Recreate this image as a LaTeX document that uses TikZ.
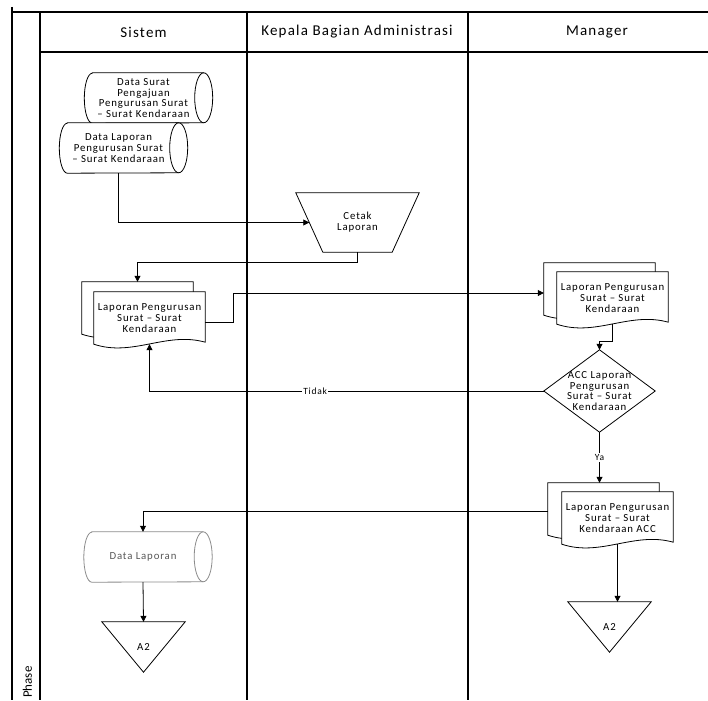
\documentclass[tikz,border=0pt]{standalone}
\usepackage{fontspec}
\setmainfont{Carlito}[LetterSpace=8]
\newfontfamily\phasefont{Carlito}
\usetikzlibrary{arrows.meta,calc}
\pgfdeclarelayer{bg}
\pgfsetlayers{bg,main}

\tikzset{
  lane/.style={line width=1.2pt, draw=black},
  flow/.style={line width=0.8pt, -{Triangle[length=6pt,width=6pt]}},
  shapeline/.style={line width=0.8pt, draw=black, fill=white},
  txt/.style={font=\fontsize{10.8}{10.9}\selectfont, align=center, inner sep=0pt},
  head/.style={font=\fontsize{15}{17}\selectfont},
  lbl/.style={font=\fontsize{9.5}{10}\selectfont, fill=white, inner sep=1pt},
  drumframe/.style={txt, minimum width=102pt, minimum height=50pt},
  docframe/.style={txt, minimum width=111pt, minimum height=52pt},
  decframe/.style={txt, minimum width=111pt, minimum height=82pt},
  triframe/.style={txt, minimum width=83pt, minimum height=50pt},
  trapframe/.style={txt, minimum width=123pt, minimum height=59pt},
}

% horizontal data drum: left half cap at west, full ellipse cap right of east
\newcommand\drumoutline[2][]{%
  \draw[shapeline,#1] (#2.north west) -- ([xshift=9pt]#2.north east)
    arc[start angle=-90,end angle=90,x radius=9,y radius=25]
    -- (#2.south west)
    arc[start angle=90,end angle=270,x radius=8,y radius=25] -- cycle;
  \draw[shapeline,fill=none,#1] ([xshift=9pt]#2.north east)
    arc[start angle=-90,end angle=-270,x radius=9,y radius=25];}

% sheet of paper with a wavy lower edge
\newcommand\paper[1]{%
  \draw[shapeline] (#1.north west) -- (#1.north east) -- ([yshift=2pt]#1.south east)
    .. controls ($(#1.south east)+(-38.85,-13)$) and ($(#1.south west)+(38.85,13)$)
    .. (#1.south west) -- cycle;}

\begin{document}
\begin{tikzpicture}[x=1pt,y=-1pt]
\useasboundingbox (0,0) rectangle (708,700);

% ---- swimlane headers
\node[head] (hS) at (143.5,32) {Sistem};
\node[head] (hK) at (357,32) {Kepala Bagian Administrasi};
\node[head] (hM) at (597,32) {Manager};
\node[font=\phasefont\fontsize{13}{15}\selectfont, rotate=90, anchor=west, inner sep=0pt] (ph) at (27.5,698) {Phase};

% ---- Sistem lane
\node[drumframe] (dsp) at (143.5,98) {Data Surat\\Pengajuan\\Pengurusan Surat\\– Surat Kendaraan};
\node[drumframe] (dlp) at (118.5,148) {Data Laporan\\Pengurusan Surat\\– Surat Kendaraan};
\node[docframe] (bdS) at (137.5,308) {};
\node[docframe] (fdS) at (149.5,318) {Laporan Pengurusan\\Surat – Surat\\Kendaraan};
\node[drumframe, text=black!65] (dl) at (143,557) {Data Laporan};
\node[triframe] (triS) at (143.5,647) {A2};

% ---- Kepala Bagian Administrasi lane
\node[trapframe] (cetak) at (357.5,222.5) {Cetak\\Laporan};

% ---- Manager lane
\node[docframe] (bdM) at (599.5,289) {};
\node[docframe] (fdM) at (612.5,298) {Laporan Pengurusan\\Surat – Surat\\Kendaraan};
\node[decframe] (acc) at (599.5,391) {ACC Laporan\\Pengurusan\\Surat – Surat\\Kendaraan};
\node[docframe] (bdM2) at (603.5,509) {};
\node[docframe] (fdM2) at (617.5,518) {Laporan Pengurusan\\Surat – Surat\\Kendaraan ACC};
\node[triframe] (triM) at (609.5,627) {A2};

% ---- outlines behind the texts
\begin{pgfonlayer}{bg}
  \draw[lane] (12,7) -- (12,700);
  \draw[lane] (40,12) -- (40,700);
  \draw[lane] (12,12) -- (708,12);
  \draw[lane] (40,52) -- (708,52);
  \draw[lane] (247,12) -- (247,700);
  \draw[lane] (468,12) -- (468,700);

  \drumoutline{dsp}
  \drumoutline{dlp}
  \drumoutline[draw=black!45]{dl}
  \paper{bdS} \paper{fdS}
  \paper{bdM} \paper{fdM}
  \paper{bdM2} \paper{fdM2}
  \draw[shapeline] (cetak.north west) -- (cetak.north east)
    -- ([xshift=-27pt]cetak.south east) -- ([xshift=27pt]cetak.south west) -- cycle;
  \draw[shapeline] (acc.north) -- (acc.east) -- (acc.south) -- (acc.west) -- cycle;
  \draw[shapeline] (triS.north west) -- (triS.north east) -- (triS.south) -- cycle;
  \draw[shapeline] (triM.north west) -- (triM.north east) -- (triM.south) -- cycle;
\end{pgfonlayer}

% ---- flow connectors
\draw[flow] (dlp.south) |- ([xshift=13.5pt]cetak.west);
\draw[flow] (cetak.south) -- ++(0,10) -| (bdS.north);
\draw[flow] ([yshift=-4pt]fdS.east) -- ++(28,0) |- ([yshift=-4pt]bdM.west);
\draw[flow] (fdM.south) -- ++(0,17) -| (acc.north);
\draw[flow] (acc.west) -| (fdS.south) node[lbl, pos=0.29] {Tidak};
\draw[flow] (acc.south) -- (acc.south |- bdM2.north) node[lbl, midway] {Ya};
\draw[flow] ([yshift=-2pt]bdM2.west) -| (dl.north);
\draw[flow] (dl.south) -- (triS.north);
\draw[flow] (fdM2.south) -- (fdM2.south |- triM.north);
\end{tikzpicture}
\end{document}
